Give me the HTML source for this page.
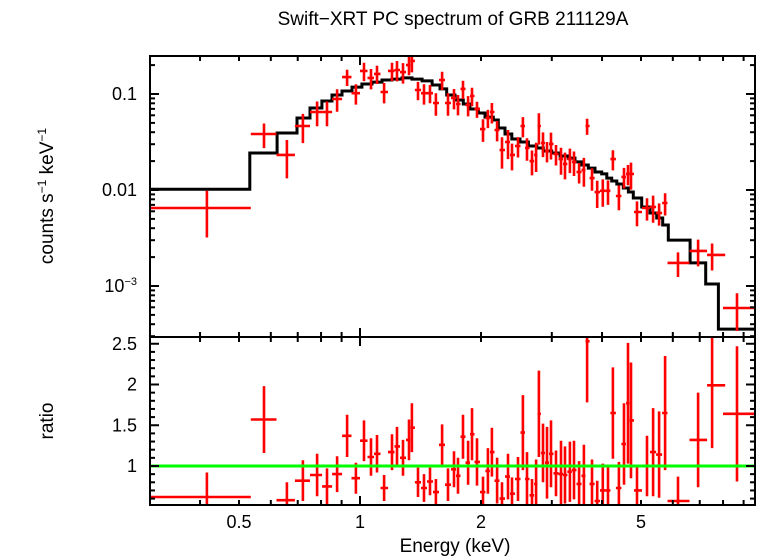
<!DOCTYPE html>
<html><head><meta charset="utf-8">
<style>
html,body{margin:0;padding:0;background:#fff;}
svg{display:block;font-family:"Liberation Sans",sans-serif;}
</style></head>
<body>
<svg id="chart" width="758" height="556" viewBox="0 0 758 556" xmlns="http://www.w3.org/2000/svg">
<rect width="758" height="556" fill="#fff"/>
<text x="453" y="25" font-size="19" text-anchor="middle">Swift−XRT PC spectrum of GRB 211129A</text>
<text transform="translate(53,196) rotate(-90)" font-size="19" text-anchor="middle">counts s<tspan font-size="12" dy="-7">−1</tspan><tspan dy="7"> keV</tspan><tspan font-size="12" dy="-7">−1</tspan></text>
<text transform="translate(53,421) rotate(-90)" font-size="19" text-anchor="middle">ratio</text>
<text x="455" y="552" font-size="19" text-anchor="middle">Energy (keV)</text>
<g id="gTop"></g>
<g id="gBot"></g>
</svg>
<script>
// ---- data ----
const energy = [0.416,0.577,0.658,0.721,0.782,0.828,0.877,0.929,0.977,1.023,1.065,1.102,1.148,1.201,1.236,1.279,1.324,1.346,1.394,1.443,1.493,1.545,1.600,1.655,1.713,1.753,1.804,1.857,1.899,1.954,2.023,2.080,2.129,2.193,2.255,2.334,2.388,2.472,2.543,2.602,2.679,2.742,2.786,2.852,2.919,2.987,3.073,3.162,3.236,3.327,3.406,3.508,3.606,3.673,3.776,3.890,4.018,4.140,4.256,4.406,4.536,4.642,4.721,4.887,5.176,5.358,5.546,5.741,6.180,6.934,7.516,8.664];
const rate = [0.0065,0.0383,0.0232,0.0464,0.0649,0.0649,0.0887,0.150,0.102,0.174,0.147,0.162,0.105,0.174,0.178,0.169,0.200,0.221,0.110,0.102,0.102,0.0806,0.140,0.0806,0.0909,0.0787,0.113,0.0768,0.0953,0.0698,0.0431,0.0562,0.0649,0.0422,0.0261,0.0316,0.0232,0.0287,0.0464,0.0274,0.0200,0.0232,0.0464,0.0309,0.0255,0.0302,0.0237,0.0210,0.0187,0.0210,0.0196,0.0154,0.0162,0.0464,0.0133,0.0095,0.0098,0.0098,0.0210,0.00866,0.0137,0.0147,0.0147,0.0059,0.0065,0.00665,0.00576,0.00733,0.00174,0.00232,0.00211,0.00059];
const rateErr = [0.0033,0.011,0.010,0.0156,0.0187,0.0187,0.0234,0.0288,0.0245,0.0376,0.0353,0.035,0.0252,0.0376,0.0427,0.0406,0.0432,0.053,0.0238,0.0245,0.022,0.0213,0.0302,0.0213,0.0218,0.0189,0.0244,0.0184,0.0206,0.0134,0.0114,0.0121,0.0156,0.0101,0.0094,0.0106,0.0072,0.0069,0.0111,0.0072,0.0058,0.0078,0.0167,0.0089,0.0061,0.0094,0.0057,0.0066,0.0058,0.0060,0.0056,0.0037,0.0054,0.0089,0.0035,0.0030,0.0031,0.0028,0.0050,0.0025,0.0033,0.0035,0.0046,0.0017,0.0017,0.0021,0.0015,0.0019,0.0005,0.00072,0.00066,0.00025];
const ratio = [0.62,1.57,0.58,0.82,0.89,0.75,0.90,1.37,0.85,1.31,1.11,1.15,0.73,1.17,1.24,1.10,1.32,1.47,0.80,0.73,0.81,0.68,1.26,0.77,0.96,0.88,1.36,1.04,1.39,1.05,0.68,0.94,1.17,0.82,0.60,0.87,0.66,0.84,1.41,0.84,0.64,0.78,1.64,1.16,1.04,1.15,0.91,0.90,0.89,0.93,0.95,0.78,0.88,2.53,0.78,0.57,0.70,0.70,1.65,0.73,1.27,1.77,1.56,0.70,1.00,1.17,1.14,1.65,0.57,1.32,1.99,1.64];
const ratioErr = [0.30,0.41,0.22,0.25,0.26,0.22,0.22,0.26,0.19,0.25,0.23,0.23,0.16,0.22,0.24,0.22,0.25,0.30,0.18,0.17,0.17,0.16,0.25,0.20,0.22,0.22,0.27,0.27,0.32,0.29,0.19,0.28,0.30,0.28,0.20,0.28,0.20,0.27,0.46,0.33,0.20,0.30,0.53,0.36,0.44,0.41,0.28,0.41,0.35,0.37,0.36,0.28,0.38,0.75,0.30,0.25,0.33,0.31,0.56,0.32,0.50,0.74,0.71,0.30,0.37,0.54,0.53,0.70,0.30,0.58,0.77,0.83];
// explicit bin edges for wide bins: [index, eLow, eHigh]
const wideBins = [[0,0.30,0.535],[1,0.535,0.62],[68,5.82,6.6],[69,6.6,7.3],[70,7.3,8.1],[71,8.0,9.6]];
// model (folded) step function
const modelEdges = [0.300,0.532,0.622,0.697,0.751,0.804,0.852,0.902,0.955,1.011,1.071,1.134,1.201,1.272,1.347,1.427,1.511,1.581,1.643,1.723,1.807,1.877,1.970,2.046,2.146,2.208,2.295,2.385,2.500,2.623,2.753,2.858,2.999,3.146,3.298,3.426,3.561,3.698,3.842,3.993,4.110,4.228,4.352,4.519,4.651,4.786,5.020,5.265,5.470,5.662,5.847,6.623,7.244,7.788,9.66];
const modelRate = [0.0102,0.0243,0.0392,0.0562,0.0715,0.0846,0.0976,0.1074,0.118,0.127,0.133,0.140,0.143,0.147,0.143,0.137,0.124,0.113,0.0976,0.0866,0.0787,0.0698,0.0634,0.0575,0.0536,0.0442,0.0383,0.0340,0.0316,0.0287,0.0274,0.0255,0.0243,0.0226,0.0215,0.0196,0.0182,0.0169,0.0154,0.0147,0.0133,0.0124,0.01155,0.0105,0.00953,0.00826,0.00665,0.00576,0.00511,0.00432,0.00301,0.00174,0.00105,0.000356];
const xTickLabels = ["0.5","1","2","5"];
const xTickValues = [0.5,1,2,5];
const ratioTickValues = [1,1.5,2,2.5];

// ---- axes ----
const L=150,R=755,T=56,M=337,B=505;
const xs = e => 360 + 402*Math.log10(e);
const ysTop = v => 94 - 96*(Math.log10(v)+1);
const ysBot = r => 466 - 81.5*(r-1);
const NS="http://www.w3.org/2000/svg";
function mk(tag, parent, attrs){const el=document.createElementNS(NS,tag);for(const k in attrs)el.setAttribute(k,attrs[k]);parent.appendChild(el);return el;}
const gT=document.getElementById('gTop'), gB=document.getElementById('gBot');
const TF=18;

const defs=mk('defs',document.getElementById('chart'),{});
const c1=mk('clipPath',defs,{id:'clipT'}); mk('rect',c1,{x:L,y:T,width:R-L,height:M-T});
const c2=mk('clipPath',defs,{id:'clipB'}); mk('rect',c2,{x:L,y:M,width:R-L,height:B-M});

const binLo=[],binHi=[];
for(let i=0;i<energy.length;i++){
  binLo.push(i===0?energy[0]:Math.sqrt(energy[i-1]*energy[i]));
  binHi.push(i===energy.length-1?energy[i]:Math.sqrt(energy[i]*energy[i+1]));
}
const wideIdx=wideBins.map(w=>w[0]);
wideBins.forEach(w=>{
  binLo[w[0]]=w[1];binHi[w[0]]=w[2];
  if(w[0]>0&&wideIdx.indexOf(w[0]-1)<0)binHi[w[0]-1]=w[1];
  if(w[0]<energy.length-1&&wideIdx.indexOf(w[0]+1)<0)binLo[w[0]+1]=w[2];
});

const mg=mk('g',gT,{'clip-path':'url(#clipT)'});
let d='';
for(let i=0;i<modelRate.length;i++){
  const x0=xs(modelEdges[i]),x1=xs(modelEdges[i+1]),y=ysTop(modelRate[i]);
  d+=(i===0?'M':'L')+x0.toFixed(1)+','+y.toFixed(1)+'L'+x1.toFixed(1)+','+y.toFixed(1);
}
const mp=mk('path',mg,{d:d,fill:'none',stroke:'#000','stroke-width':3});



const dg=mk('g',gT,{'clip-path':'url(#clipT)',stroke:'#f00','stroke-width':2.6});
const rg=mk('g',gB,{'clip-path':'url(#clipB)',stroke:'#f00','stroke-width':2.6});
const ul=mk('line',gB,{x1:L,x2:R,y1:ysBot(1),y2:ysBot(1),stroke:'#0f0','stroke-width':3});


for(let i=0;i<energy.length;i++){
  const x=xs(energy[i]),xl=xs(binLo[i]),xh=xs(binHi[i]);
  const y=ysTop(rate[i]);
  const lo=rate[i]-rateErr[i];
  const yl=lo>0?ysTop(lo):M+20, yh=ysTop(rate[i]+rateErr[i]);
  const p=mk('path',dg,{d:`M${xl.toFixed(1)},${y.toFixed(1)}H${xh.toFixed(1)}M${x.toFixed(1)},${yh.toFixed(1)}V${yl.toFixed(1)}`});
  
  
  const yr=ysBot(ratio[i]),yrl=ysBot(ratio[i]-ratioErr[i]),yrh=ysBot(ratio[i]+ratioErr[i]);
  const q=mk('path',rg,{d:`M${xl.toFixed(1)},${yr.toFixed(1)}H${xh.toFixed(1)}M${x.toFixed(1)},${yrh.toFixed(1)}V${yrl.toFixed(1)}`});
  
  
}

const f1=mk('rect',gT,{x:L,y:T,width:R-L,height:M-T,fill:'none',stroke:'#000','stroke-width':2});


const f2=mk('rect',gB,{x:L,y:M,width:R-L,height:B-M,fill:'none',stroke:'#000','stroke-width':2});



const tg=mk('g',document.getElementById('chart'),{stroke:'#000','stroke-width':2});
for(let e=0.3;e<=10.001;){
  const x=xs(e); if(x>=L&&x<=R){
    const maj=Math.abs(e-1)<1e-6||Math.abs(e-10)<1e-6;
    const len=maj?9:5;
    [[T,1],[M,-1],[M,1],[B,-1]].forEach(([y0,s])=>mk('line',tg,{x1:x,x2:x,y1:y0,y2:y0+s*len}));
  }
  e = e<0.999 ? Math.round((e+0.1)*10)/10 : Math.round(e+1);
}
xTickLabels.forEach((t,i)=>{
  const el=mk('text',document.getElementById('chart'),{x:xs(xTickValues[i]),y:528,'font-size':TF,'text-anchor':'middle'});
  el.textContent=t;
  
  
});
for(let dec=-4;dec<=-1;dec++){
  for(let m=1;m<=9;m++){
    const v=m*Math.pow(10,dec), y=ysTop(v);
    if(y<T||y>M) continue;
    const len=m===1?9:5;
    mk('line',tg,{x1:L,x2:L+len,y1:y,y2:y}); mk('line',tg,{x1:R,x2:R-len,y1:y,y2:y});
  }
}
[["0.1",0.1],["0.01",0.01]].forEach(([t,v])=>{
  const el=mk('text',document.getElementById('chart'),{x:137,y:ysTop(v)+6,'font-size':TF,'text-anchor':'end'});
  el.textContent=t;
  
  
});
const e3=mk('text',document.getElementById('chart'),{x:137,y:ysTop(0.001)+6,'font-size':TF,'text-anchor':'end'});
e3.innerHTML='10<tspan font-size="11" dy="-7">−3</tspan>';


for(let k=5;k<=26;k++){
  const r=k/10,y=ysBot(r); if(y<M||y>B) continue;
  const len=(k%5===0)?9:5;
  mk('line',tg,{x1:L,x2:L+len,y1:y,y2:y}); mk('line',tg,{x1:R,x2:R-len,y1:y,y2:y});
}
ratioTickValues.forEach(v=>{
  const el=mk('text',document.getElementById('chart'),{x:137,y:ysBot(v)+6,'font-size':TF,'text-anchor':'end'});
  el.textContent=String(v);
  
  
});
</script>
</body></html>
